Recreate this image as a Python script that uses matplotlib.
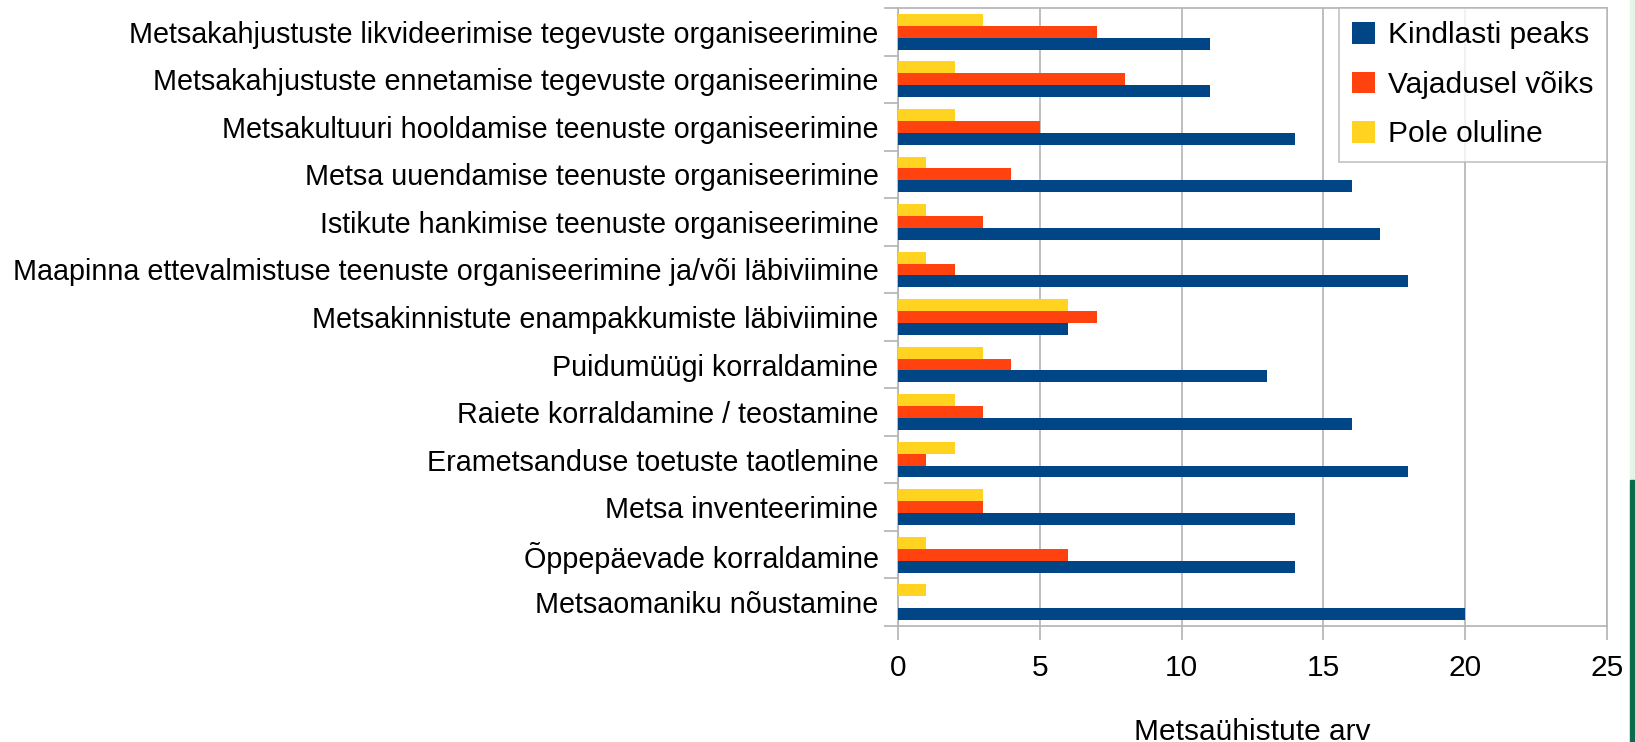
import matplotlib.pyplot as plt
import numpy as np
from matplotlib.patches import Rectangle

plt.rcParams['font.family'] = ['Liberation Sans', 'DejaVu Sans']

categories = [
    "Metsakahjustuste likvideerimise tegevuste organiseerimine",
    "Metsakahjustuste ennetamise tegevuste organiseerimine",
    "Metsakultuuri hooldamise teenuste organiseerimine",
    "Metsa uuendamise teenuste organiseerimine",
    "Istikute hankimise teenuste organiseerimine",
    "Maapinna ettevalmistuse teenuste organiseerimine ja/või läbiviimine",
    "Metsakinnistute enampakkumiste läbiviimine",
    "Puidumüügi korraldamine",
    "Raiete korraldamine / teostamine",
    "Erametsanduse toetuste taotlemine",
    "Metsa inventeerimine",
    "Õppepäevade korraldamine",
    "Metsaomaniku nõustamine",
]
kindlasti = [11, 11, 14, 16, 17, 18, 6, 13, 16, 18, 14, 14, 20]
vajadusel = [7, 8, 5, 4, 3, 2, 7, 4, 3, 1, 3, 6, 0]
pole = [3, 2, 2, 1, 1, 1, 6, 3, 2, 2, 3, 1, 1]
series_names = ["Kindlasti peaks", "Vajadusel võiks", "Pole oluline"]
colors = ["#004586", "#ff420e", "#ffd320"]

fig = plt.figure(figsize=(16.35, 7.42), dpi=100)
ax = fig.add_axes([898 / 1635, 1 - 626 / 742, (1607 - 898) / 1635, (626 - 8) / 742])

y = np.arange(len(categories))
h = 0.25
ax.barh(y + h, kindlasti, height=h, color=colors[0], label=series_names[0], zorder=3)
ax.barh(y, vajadusel, height=h, color=colors[1], label=series_names[1], zorder=3)
ax.barh(y - h, pole, height=h, color=colors[2], label=series_names[2], zorder=3)

ax.set_ylim(len(categories) - 0.5, -0.5)
ax.set_xlim(0, 25)
ax.set_xticks(range(0, 26, 5))
ax.set_yticks(y)
ax.set_yticklabels(categories)
ax.set_yticks(np.arange(len(categories) + 1) - 0.5, minor=True)

grey = "#b3b3b3"
ax.grid(axis="x", color=grey, linewidth=1.2, zorder=0)
for s in ax.spines.values():
    s.set_color(grey)
    s.set_linewidth(1.2)

ax.tick_params(axis="y", which="major", length=0, pad=14, labelsize=20.7)
ax.tick_params(axis="y", which="minor", length=10, color=grey, width=1.2)
ax.tick_params(axis="x", length=10, color=grey, width=1.2, pad=10, labelsize=21.5)

ax.set_xlabel("Metsaühistute arv", fontsize=21.5, labelpad=26)

leg = ax.legend(loc="upper right", bbox_to_anchor=(1.0, 1.0), fontsize=21.5,
                frameon=True, fancybox=False, borderaxespad=0,
                handlelength=0.75, handleheight=0.75, handletextpad=0.45,
                labelspacing=0.72, borderpad=0.45)
leg.get_frame().set_edgecolor(grey)
leg.get_frame().set_linewidth(1.2)

# green slide edge on the right
fig.patches.append(Rectangle((1630 / 1635, 262 / 742), 5 / 1635, 480 / 742,
                             transform=fig.transFigure, color="#e6f3e6", zorder=0))
fig.patches.append(Rectangle((1630 / 1635, 0), 5 / 1635, 262 / 742,
                             transform=fig.transFigure, color="#0b6b4e", zorder=0))

fig.savefig("out.png", dpi=100)
